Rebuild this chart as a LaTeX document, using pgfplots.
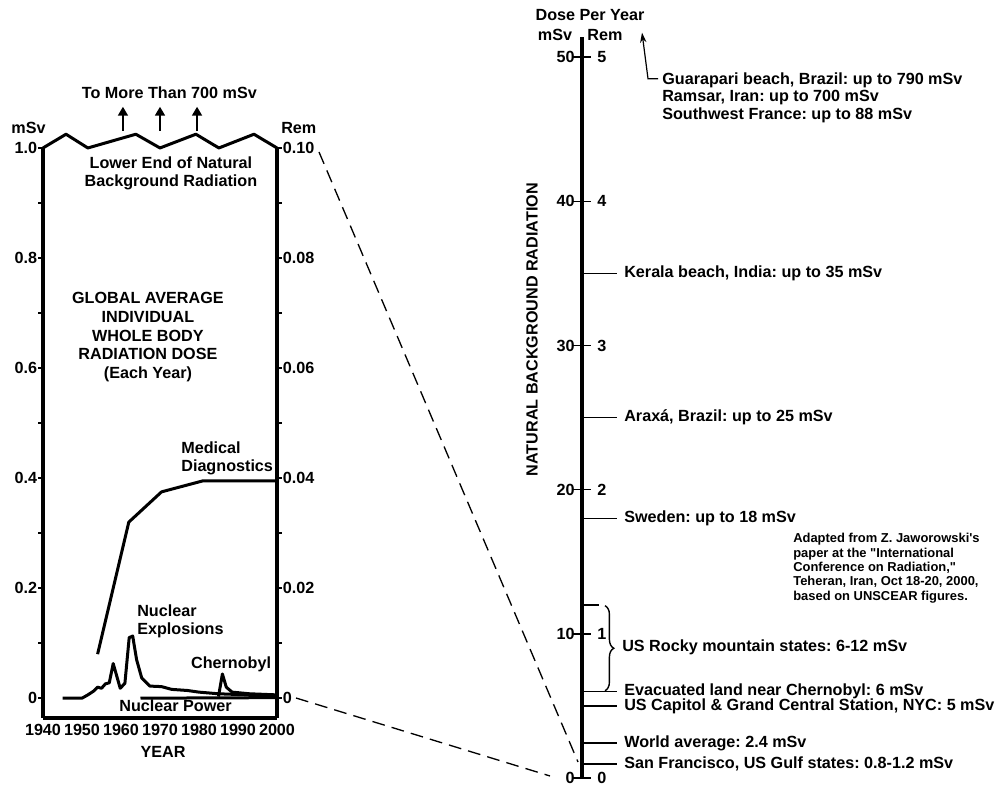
\documentclass[border=0pt]{standalone}
\usepackage{fontspec}
\setmainfont{Liberation Sans}[Ligatures=TeXOff]
\usepackage{pgfplots}
\pgfplotsset{compat=1.18}
\usetikzlibrary{arrows.meta,decorations.pathreplacing}
\frenchspacing
\newcommand{\fs}{\fontsize{11.5}{12.8}\selectfont\bfseries}
\newcommand{\fsg}{\fontsize{11.5}{13.3}\selectfont\bfseries}
\newcommand{\fsb}{\fontsize{11.5}{12.4}\selectfont\bfseries}
\newcommand{\fsn}{\fontsize{9.2}{10.2}\selectfont\bfseries}
\newcommand{\dq}{\char34\relax}
\newcommand{\sq}{\char39\relax}

\pgfplotstableread{
x y
1954 0.08
1962 0.32
1970.4 0.375
1981 0.395
2000 0.395
}\medical
\pgfplotstableread{
x y
1945 0
1950 0
1951.5 0.006
1953 0.013
1954 0.02
1955 0.018
1956 0.026
1957 0.028
1958 0.063
1959.8 0.018
1961 0.027
1962.1 0.11
1963 0.113
1964 0.07
1965.3 0.037
1967.4 0.022
1970.4 0.021
1973 0.016
1977 0.014
1980 0.011
1985 0.008
2000 0.004
}\explosions
\pgfplotstableread{
x y
1985 0.003
1986 0.044
1987 0.02
1988.5 0.011
1993 0.008
2000 0.006
}\chernobyl
\pgfplotstableread{
x y
1965 0
2000 0.001
}\nucpower

\begin{document}
\begin{tikzpicture}
\begin{scope}[x=0.25mm,y=0.25mm]
\path[use as bounding box] (0,0) rectangle (1003,787);
% dashed connectors
\draw[line width=0.33mm, dash pattern=on 3.2mm off 1.8mm] (319,635) -- (578,25);
\draw[line width=0.33mm, dash pattern=on 3.2mm off 1.8mm] (296,89) -- (550,11);
\end{scope}

% ---------------- left panel (mSv) ----------------
\begin{axis}[
  at={(10.75mm,17.25mm)}, anchor=south west, scale only axis,
  width=58.5mm, height=142.5mm,
  xmin=1940, xmax=2000, ymin=-0.036, ymax=1.0,
  axis x line*=bottom, axis y line*=left,
  axis line style={-, line width=0.8mm},
  every outer x axis line/.append style={-},
  every outer y axis line/.append style={-},
  xtick={1940,1950,1960,1970,1980,1990,2000},
  xticklabels={1940,1950,1960,1970,1980,1990,2000},
  x tick style={draw=none},
  ytick={0,0.2,0.4,0.6,0.8,1.0},
  yticklabels={0,0.2,0.4,0.6,0.8,1.0},
  minor ytick={0.1,0.3,0.5,0.7,0.9},
  y tick style={line width=0.4mm, black},
  tick align=outside, major tick length=1.2mm, minor tick length=1.2mm,
  tick label style={font=\fs, inner sep=0.6pt},
  clip=false,
]
\addplot[black, line width=0.75mm, line join=round] table {\medical};
\addplot[black, line width=0.75mm, line join=round] table {\explosions};
\addplot[black, line width=0.75mm, line join=round] table {\chernobyl};
\addplot[black, line width=0.75mm, line join=round] table {\nucpower};
% zigzag top edge
\addplot[black, line width=0.75mm, line join=round] coordinates {
 (1940,1.0) (1945.9,1.025) (1951.5,1.0) (1963.8,1.025) (1970,1.0)
 (1979.2,1.025) (1985.1,1.0) (1994.1,1.025) (2000,1.0)};
\draw[line width=0.55mm, -{Triangle[width=2.4mm,length=2.2mm]}] (axis cs:1960.5,1.031) -- (axis cs:1960.5,1.075);
\draw[line width=0.55mm, -{Triangle[width=2.4mm,length=2.2mm]}] (axis cs:1970,1.031) -- (axis cs:1970,1.075);
\draw[line width=0.55mm, -{Triangle[width=2.4mm,length=2.2mm]}] (axis cs:1979.5,1.031) -- (axis cs:1979.5,1.075);
\node[font=\fs] at (axis cs:1972.4,1.101) {To More Than 700 mSv};
\node[font=\fs] at (axis cs:1936.3,1.036) {mSv};
\node[font=\fs] at (axis cs:2005.6,1.036) {Rem};
\node[font=\fs, align=center] at (axis cs:1972.8,0.954) {Lower End of Natural\\Background Radiation};
\node[font=\fsg, align=center] at (axis cs:1966.9,0.656) {GLOBAL AVERAGE\\INDIVIDUAL\\WHOLE BODY\\RADIATION DOSE\\(Each Year)};
\node[font=\fs, align=left, anchor=west, inner sep=0pt] at (axis cs:1975.4,0.435) {Medical\\Diagnostics};
\node[font=\fs, align=left, anchor=west, inner sep=0pt] at (axis cs:1964.1,0.14) {Nuclear\\Explosions};
\node[font=\fs, anchor=west, inner sep=0pt] at (axis cs:1977.9,0.062) {Chernobyl};
\node[font=\fs, anchor=west, inner sep=0pt] at (axis cs:1959.5,-0.0145) {Nuclear Power};
\node[font=\fs] at (axis cs:1970.8,-0.098) {YEAR};
\end{axis}

% ---------------- left panel (Rem scale) ----------------
\begin{axis}[
  at={(10.75mm,17.25mm)}, anchor=south west, scale only axis,
  width=58.5mm, height=142.5mm,
  xmin=1940, xmax=2000, ymin=-0.0036, ymax=0.1,
  axis x line=none, axis y line*=right,
  axis line style={-, line width=0.8mm},
  every outer y axis line/.append style={-},
  ytick={0,0.02,0.04,0.06,0.08,0.1},
  yticklabels={0,0.02,0.04,0.06,0.08,0.10},
  minor ytick={0.01,0.03,0.05,0.07,0.09},
  y tick style={line width=0.4mm, black},
  tick align=outside, major tick length=1.2mm, minor tick length=1.2mm,
  tick label style={font=\fs, inner sep=0.6pt},
]
\addplot[draw=none] coordinates {(1940,0)};
\end{axis}

% ---------------- right panel ----------------
\begin{axis}[
  at={(145.5mm,2.25mm)}, anchor=south west, scale only axis,
  width=105.25mm, height=185.25mm,
  xmin=582, xmax=1003, ymin=0, ymax=51.4,
  axis x line=none, axis y line*=left,
  axis line style={-, line width=1mm},
  every outer y axis line/.append style={-},
  ytick={0,10,20,30,40,50},
  yticklabels={0,10,20,30,40,50},
  y tick style={line width=0.4mm, black},
  tick align=center, major tick length=4.3mm,
  tick label style={font=\fs, inner sep=0.6pt},
  yticklabel style={xshift=0.6mm},
  clip=false,
]
\addplot[black, line width=0.45mm] coordinates {(582,35) (617,35)};
\addplot[black, line width=0.45mm] coordinates {(582,25) (617,25)};
\addplot[black, line width=0.45mm] coordinates {(582,18) (617,18)};
\addplot[black, line width=0.45mm] coordinates {(582,12) (599,12)};
\addplot[black, line width=0.45mm] coordinates {(582,6) (617,6)};
\addplot[black, line width=0.45mm] coordinates {(582,5) (617,5)};
\addplot[black, line width=0.45mm] coordinates {(582,2.4) (617,2.4)};
\addplot[black, line width=0.45mm] coordinates {(582,0.95) (617,0.95)};
\draw[line width=0.35mm, decorate, decoration={brace, amplitude=2.2mm}] (axis cs:605,11.95) -- (axis cs:605,6.05);
\node[font=\fs, anchor=west, inner sep=0pt] at (axis cs:597,0) {0};
\node[font=\fs, anchor=west, inner sep=0pt] at (axis cs:597,10) {1};
\node[font=\fs, anchor=west, inner sep=0pt] at (axis cs:597,20) {2};
\node[font=\fs, anchor=west, inner sep=0pt] at (axis cs:597,30) {3};
\node[font=\fs, anchor=west, inner sep=0pt] at (axis cs:597,40) {4};
\node[font=\fs, anchor=west, inner sep=0pt] at (axis cs:597,50) {5};
\node[font=\fs] at (axis cs:590,52.95) {Dose Per Year};
\node[font=\fs] at (axis cs:555,51.55) {mSv};
\node[font=\fs] at (axis cs:605,51.55) {Rem};
\node[font=\fs, rotate=90] at (axis cs:532,31.1) {NATURAL BACKGROUND RADIATION};
\draw[line width=0.3mm, -{Stealth[length=2.5mm,width=1.6mm]}] (axis cs:658,48.5) -- (axis cs:648,48.5) -- (axis cs:642,51.7);
\node[font=\fsb, align=left, anchor=west, inner sep=0pt] at (axis cs:662,47.2)
  {Guarapari beach, Brazil: up to 790 mSv\\Ramsar, Iran: up to 700 mSv\\Southwest France: up to 88 mSv};
\node[font=\fs, anchor=west, inner sep=0pt] at (axis cs:624,35) {Kerala beach, India: up to 35 mSv};
\node[font=\fs, anchor=west, inner sep=0pt] at (axis cs:624,25) {Araxá, Brazil: up to 25 mSv};
\node[font=\fs, anchor=west, inner sep=0pt] at (axis cs:624,18) {Sweden: up to 18 mSv};
\node[font=\fs, anchor=west, inner sep=0pt] at (axis cs:622,9.05) {US Rocky mountain states: 6-12 mSv};
\node[font=\fs, anchor=west, inner sep=0pt] at (axis cs:624,6) {Evacuated land near Chernobyl: 6 mSv};
\node[font=\fs, anchor=west, inner sep=0pt] at (axis cs:624,5) {US Capitol \& Grand Central Station, NYC: 5 mSv};
\node[font=\fs, anchor=west, inner sep=0pt] at (axis cs:624,2.4) {World average: 2.4 mSv};
\node[font=\fs, anchor=west, inner sep=0pt] at (axis cs:624,0.95) {San Francisco, US Gulf states: 0.8-1.2 mSv};
\node[font=\fsn, align=left, anchor=west, inner sep=0pt] at (axis cs:793,14.56)
  {Adapted from Z. Jaworowski\sq s\\paper at the \dq International\\Conference on Radiation,\dq\\Teheran, Iran, Oct 18-20, 2000,\\based on UNSCEAR figures.};
\end{axis}
\end{tikzpicture}
\end{document}
